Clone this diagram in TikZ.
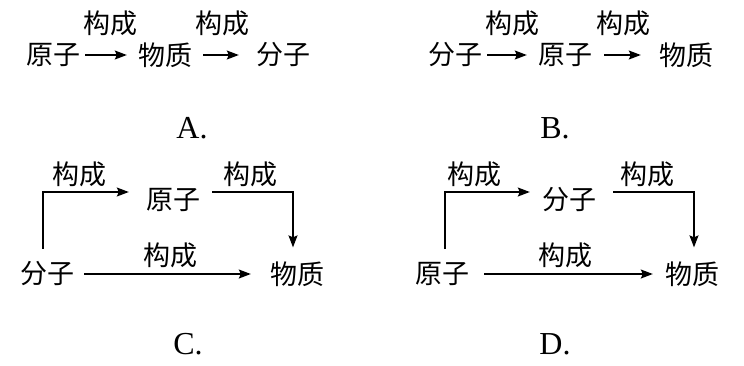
\documentclass[tikz,border=0pt]{standalone}
\usepackage{fontspec}
\newfontfamily\cjk{Noto Sans CJK SC}
\newfontfamily\latin{Liberation Serif}
\usetikzlibrary{arrows.meta, positioning}

\begin{document}
\begin{tikzpicture}[
    x=1pt, y=-1pt,
    term/.style={font=\cjk\fontsize{27}{30}\selectfont, inner sep=5pt},
    rel/.style={font=\cjk\fontsize{27}{30}\selectfont, inner sep=2pt},
    choice/.style={font=\latin\fontsize{32}{38}\selectfont, inner sep=2pt},
    arrow/.style={-{Stealth[length=12pt, width=9pt, inset=2pt]}, line width=1.4pt, shorten >=6pt}
]
\useasboundingbox[fill=white] (0,0) rectangle (744,365);

% option A
\node[term] (a1) at (53,55) {原子};
\node[term] (a2) at (165,55) {物质};
\node[term] (a3) at (283,55) {分子};
\node[rel] (a12) at (110,23) {构成};
\node[rel] (a23) at (222,23) {构成};
\node[choice] (la) at (192,128) {A.};
\draw[arrow] (a1) -- (a2);
\draw[arrow, shorten <=6pt, shorten >=12pt] (a2) -- (a3);

% option B
\node[term] (b1) at (455,55) {分子};
\node[term] (b2) at (565,55) {原子};
\node[term] (b3) at (686,55) {物质};
\node[rel] (b12) at (512,23) {构成};
\node[rel] (b23) at (623,23) {构成};
\node[choice] (lb) at (555,128) {B.};
\draw[arrow] (b1) -- (b2);
\draw[arrow, shorten <=7pt, shorten >=13pt] (b2) -- (b3);

% option C
\node[term] (c1) at (47,274) {分子};
\node[term] (c2) at (173,200) {原子};
\node[term] (c3) at (297,274) {物质};
\node[rel] (c12) at (79,174) {构成};
\node[rel] (c23) at (250,174) {构成};
\node[rel] (c13) at (170,255) {构成};
\node[choice] (lc) at (188,344) {C.};
\draw[arrow, shorten <=8pt, shorten >=12pt] ([xshift=-4pt]c1.north) |- ([yshift=8pt]c2.west);
\draw[arrow, shorten <=7pt, shorten >=9pt] ([yshift=8pt]c2.east) -| ([xshift=-4pt]c3.north);
\draw[arrow, shorten <=5pt, shorten >=14pt] (c1) -- (c3);

% option D
\node[term] (d1) at (442,274) {原子};
\node[term] (d2) at (569,200) {分子};
\node[term] (d3) at (692,274) {物质};
\node[rel] (d12) at (474,174) {构成};
\node[rel] (d23) at (647,174) {构成};
\node[rel] (d13) at (565,255) {构成};
\node[choice] (ld) at (555,344) {D.};
\draw[arrow, shorten <=8pt, shorten >=7pt] ([xshift=3pt]d1.north) |- ([yshift=8pt]d2.west);
\draw[arrow, shorten <=12pt, shorten >=9pt] ([yshift=8pt]d2.east) -| ([xshift=2pt]d3.north);
\draw[arrow, shorten <=10pt, shorten >=7pt] (d1) -- (d3);
\end{tikzpicture}
\end{document}
